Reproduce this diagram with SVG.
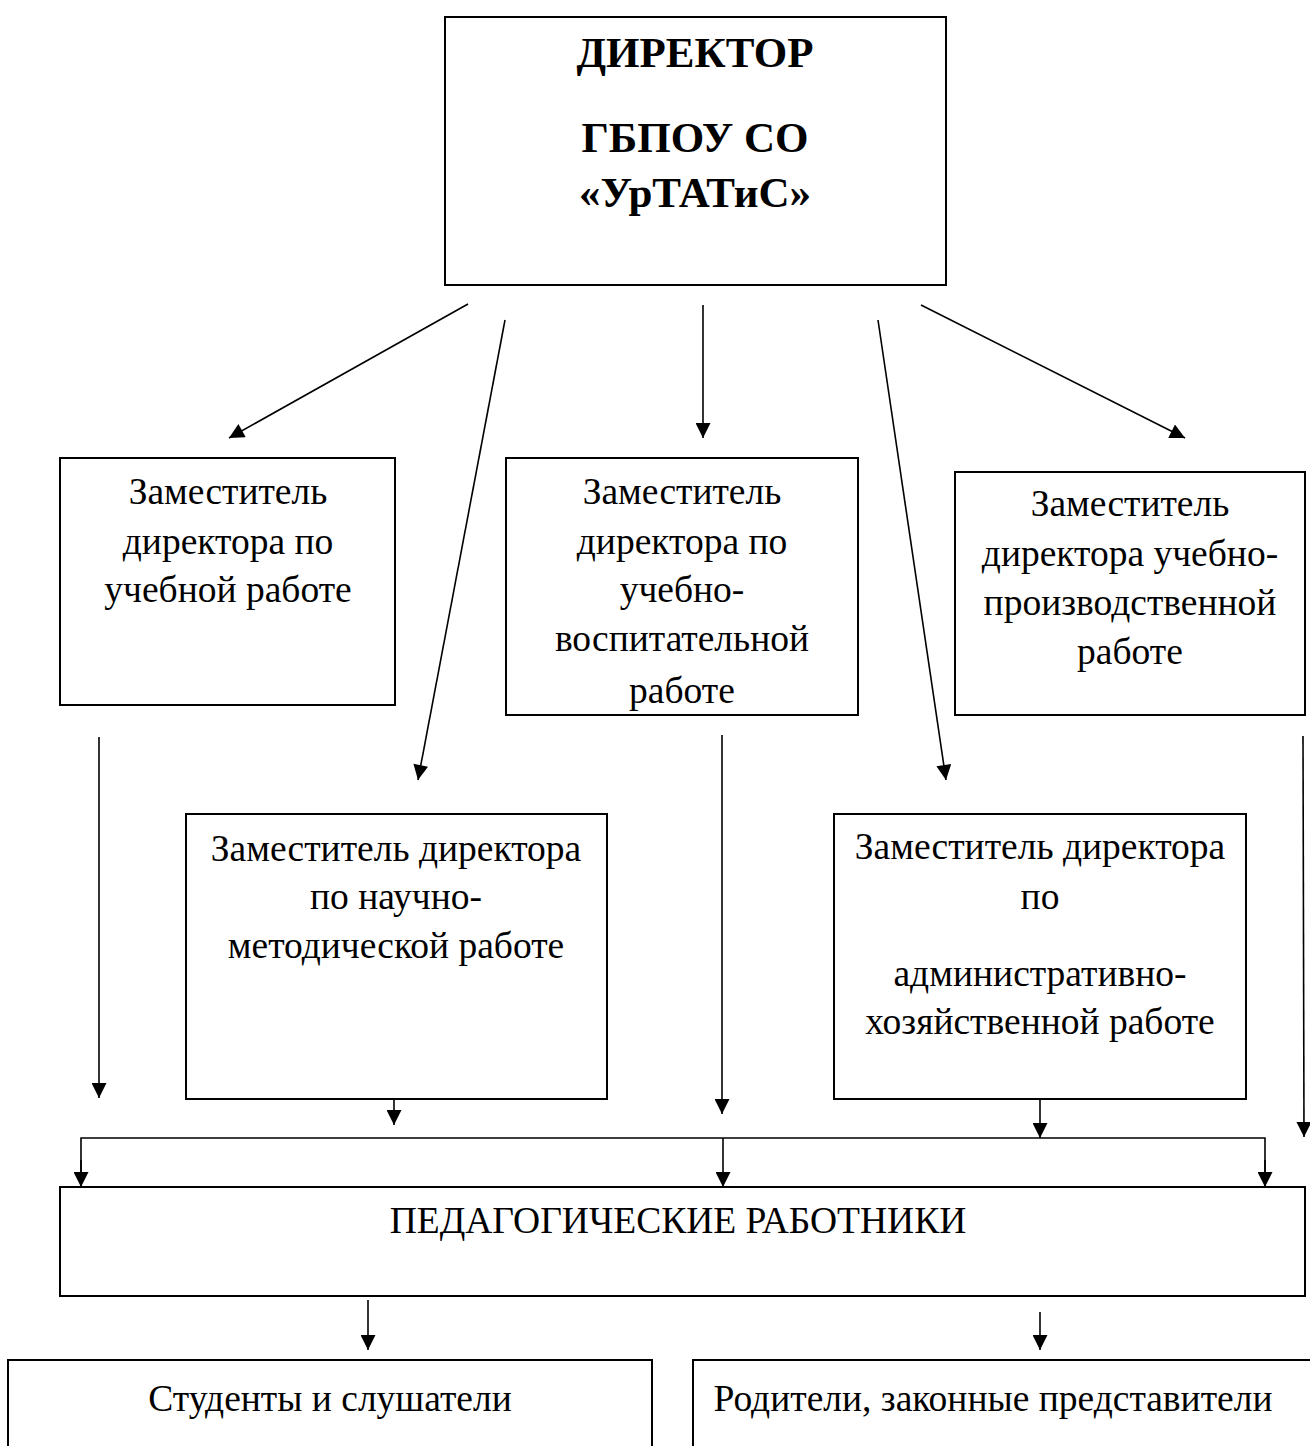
<svg xmlns="http://www.w3.org/2000/svg" width="1310" height="1446" viewBox="0 0 1310 1446">
<style>
.box{fill:#fff;stroke:#000;stroke-width:2}
.t{font-family:"Liberation Serif","Times New Roman",serif;font-size:37.5px;text-anchor:middle;fill:#000}
.b{font-family:"Liberation Serif","Times New Roman",serif;font-size:43px;font-weight:bold;text-anchor:middle;fill:#000}
.c{stroke:#000;stroke-width:1.6;fill:none}
.a{marker-end:url(#ah)}
</style>
<defs>
<marker id="ah" viewBox="0 0 10 10" refX="10" refY="5" markerUnits="userSpaceOnUse" markerWidth="17" markerHeight="15" orient="auto">
<path d="M0,0 L10,5 L0,10 z" fill="#000"/>
</marker>
</defs>
<rect width="1310" height="1446" fill="#fff"/>
<g id="director">
<rect class="box" x="445" y="17" width="501" height="268"/>
<text class="b" x="695" y="67">ДИРЕКТОР</text>
<text class="b" x="695" y="152">ГБПОУ СО</text>
<text class="b" x="695" y="207">«УрТАТиС»</text>
</g>
<g id="dep-ucheb">
<rect class="box" x="60" y="458" width="335" height="247"/>
<text class="t" x="228" y="504">Заместитель</text>
<text class="t" x="228" y="554">директора по</text>
<text class="t" x="228" y="602">учебной работе</text>
</g>
<g id="dep-vospit">
<rect class="box" x="506" y="458" width="352" height="257"/>
<text class="t" x="682" y="504">Заместитель</text>
<text class="t" x="682" y="554">директора по</text>
<text class="t" x="682" y="602">учебно-</text>
<text class="t" x="682" y="651">воспитательной</text>
<text class="t" x="682" y="703">работе</text>
</g>
<g id="dep-proizv">
<rect class="box" x="955" y="472" width="350" height="243"/>
<text class="t" x="1130" y="516">Заместитель</text>
<text class="t" x="1130" y="566">директора учебно-</text>
<text class="t" x="1130" y="615">производственной</text>
<text class="t" x="1130" y="664">работе</text>
</g>
<g id="dep-nauch">
<rect class="box" x="186" y="814" width="421" height="285"/>
<text class="t" x="396" y="861">Заместитель директора</text>
<text class="t" x="396" y="909">по научно-</text>
<text class="t" x="396" y="958">методической работе</text>
</g>
<g id="dep-adm">
<rect class="box" x="834" y="814" width="412" height="285"/>
<text class="t" x="1040" y="859">Заместитель директора</text>
<text class="t" x="1040" y="909">по</text>
<text class="t" x="1040" y="986">административно-</text>
<text class="t" x="1040" y="1034">хозяйственной работе</text>
</g>
<g id="pedagog">
<rect class="box" x="60" y="1187" width="1245" height="109"/>
<text class="t" x="678" y="1233">ПЕДАГОГИЧЕСКИЕ РАБОТНИКИ</text>
</g>
<g id="students">
<rect class="box" x="8" y="1360" width="644" height="100"/>
<text class="t" x="330" y="1411">Студенты и слушатели</text>
</g>
<g id="parents">
<rect class="box" x="693" y="1360" width="640" height="100"/>
<text class="t" x="993" y="1411">Родители, законные представители</text>
</g>
<g id="connectors">
<line class="c a" x1="468" y1="304" x2="229" y2="438"/>
<line class="c a" x1="505" y1="320" x2="418" y2="780"/>
<line class="c a" x1="703" y1="305" x2="703" y2="438"/>
<line class="c a" x1="878" y1="320" x2="946" y2="780"/>
<line class="c a" x1="921" y1="305" x2="1185" y2="438"/>
<line class="c a" x1="99" y1="737" x2="99" y2="1098"/>
<line class="c a" x1="722" y1="735" x2="722" y2="1114"/>
<line class="c a" x1="1303" y1="736" x2="1304" y2="1137"/>
<line class="c a" x1="394" y1="1100" x2="394" y2="1125"/>
<line class="c a" x1="1040" y1="1100" x2="1040" y2="1138"/>
<polyline class="c" points="81,1187 81,1138 1265,1138 1265,1187"/>
<line class="c a" x1="81" y1="1160" x2="81" y2="1187"/>
<line class="c a" x1="723" y1="1138" x2="723" y2="1187"/>
<line class="c a" x1="1265" y1="1160" x2="1265" y2="1187"/>
<line class="c a" x1="368" y1="1300" x2="368" y2="1350"/>
<line class="c a" x1="1040" y1="1312" x2="1040" y2="1350"/>
</g>
</svg>
